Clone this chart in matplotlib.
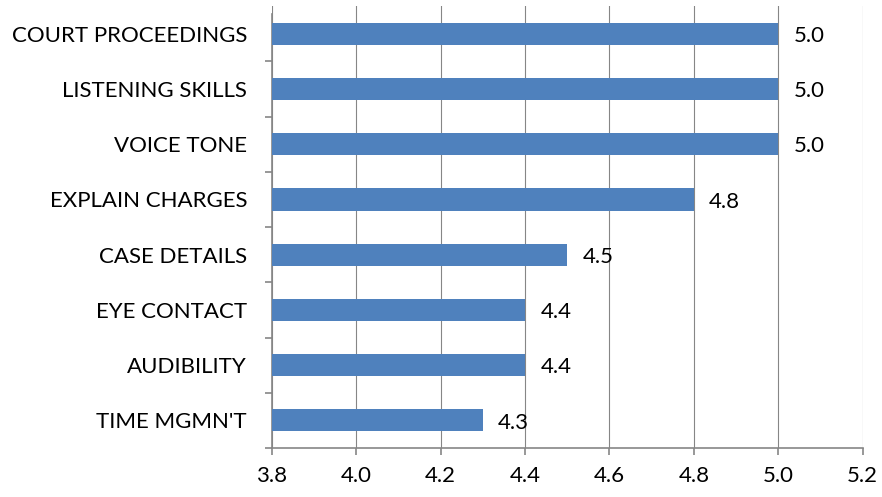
import numpy as np
import matplotlib
matplotlib.use('Agg')
import matplotlib.pyplot as plt
from matplotlib.ticker import FixedLocator

categories = ['COURT PROCEEDINGS', 'LISTENING SKILLS', 'VOICE TONE', 'EXPLAIN CHARGES',
              'CASE DETAILS', 'EYE CONTACT', 'AUDIBILITY', "TIME MGMN'T"]
values = [5.0, 5.0, 5.0, 4.8, 4.5, 4.4, 4.4, 4.3]
xticks = [3.8, 4.0, 4.2, 4.4, 4.6, 4.8, 5.0, 5.2]

plt.rcParams['font.family'] = ['Lato', 'DejaVu Sans']
grey = '#868686'
fs = 16

fig = plt.figure(figsize=(8.82, 4.97), dpi=100)
ax = fig.add_axes([0.3084, 0.0986, 0.6696, 0.889])

y = np.arange(len(categories))
ax.barh(y, np.array(values) - 3.8, left=3.8, height=0.4, color='#4F81BD', zorder=3)
for yi, v in zip(y, values):
    ax.text(v + 0.036, yi + 0.04, '%.1f' % v, va='center', ha='left', fontsize=fs)

ax.set_xlim(3.8, 5.2)
ax.set_ylim(len(categories) - 0.5, -0.5)
ax.set_xticks(xticks)
ax.set_xticklabels(['%.1f' % t for t in xticks], fontsize=fs)
ax.set_yticks(y)
ax.set_yticklabels(categories, fontsize=fs)
ax.yaxis.set_minor_locator(FixedLocator(np.arange(0.5, len(categories), 1.0)))
ax.tick_params(axis='y', which='major', length=0, pad=18)
ax.tick_params(axis='y', which='minor', length=5, color=grey, width=1.2)
ax.tick_params(axis='x', length=5, color=grey, width=1.2, pad=8)
ax.grid(axis='x', color=grey, lw=0.8, zorder=0)

for s in ['top', 'right']:
    ax.spines[s].set_visible(False)
for s in ['left', 'bottom']:
    ax.spines[s].set_color(grey)
    ax.spines[s].set_linewidth(1.2)
ax.spines['left'].set_bounds(len(categories) - 0.5, -0.35)

fig.savefig('out.png', dpi=100)
